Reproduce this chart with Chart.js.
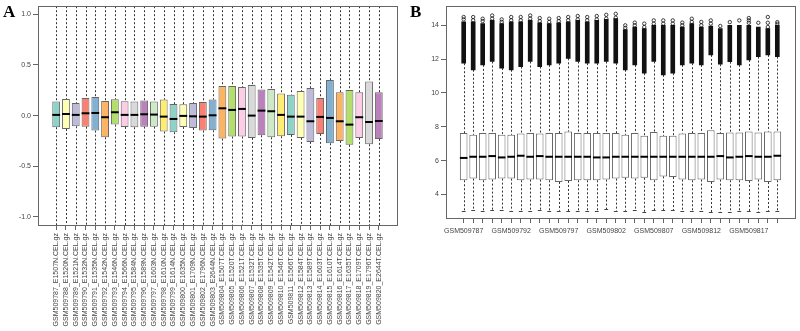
<!DOCTYPE html>
<html>
<head>
<meta charset="utf-8">
<script src="https://cdn.jsdelivr.net/npm/chart.js@4/dist/chart.umd.min.js"></script>
<style>
  html, body { margin: 0; padding: 0; background: #fff; }
  #wrap { position: relative; width: 800px; height: 331px; }
  .panel { position: absolute; top: 0; width: 400px; height: 331px; }
</style>
</head>
<body>
<div id="wrap">
  <div class="panel" style="left:0"><canvas id="chartA"></canvas></div>
  <div class="panel" style="left:400px"><canvas id="chartB"></canvas></div>
</div>
<script>
// sample file names (panel A shows them whole, panel B only the GSM id)
const sampleNames = [
  "GSM509787_E1507N.CEL.gz", "GSM509788_E1520N.CEL.gz", "GSM509789_E1521N.CEL.gz",
  "GSM509790_E1532N.CEL.gz", "GSM509791_E1535N.CEL.gz", "GSM509792_E1542N.CEL.gz",
  "GSM509793_E1546N.CEL.gz", "GSM509794_E1566N.CEL.gz", "GSM509795_E1584N.CEL.gz",
  "GSM509796_E1589N.CEL.gz", "GSM509797_E1603N.CEL.gz", "GSM509798_E1610N.CEL.gz",
  "GSM509799_E1614N.CEL.gz", "GSM509800_E1635N.CEL.gz", "GSM509801_E1709N.CEL.gz",
  "GSM509802_E1796N.CEL.gz", "GSM509803_E2644N.CEL.gz", "GSM509804_E1507T.CEL.gz",
  "GSM509805_E1520T.CEL.gz", "GSM509806_E1521T.CEL.gz", "GSM509807_E1532T.CEL.gz",
  "GSM509808_E1535T.CEL.gz", "GSM509809_E1542T.CEL.gz", "GSM509810_E1546T.CEL.gz",
  "GSM509811_E1566T.CEL.gz", "GSM509812_E1584T.CEL.gz", "GSM509813_E1589T.CEL.gz",
  "GSM509814_E1603T.CEL.gz", "GSM509815_E1610T.CEL.gz", "GSM509816_E1614T.CEL.gz",
  "GSM509817_E1635T.CEL.gz", "GSM509818_E1709T.CEL.gz", "GSM509819_E1796T.CEL.gz",
  "GSM509820_E2644T.CEL.gz"
];

// RColorBrewer Set3, recycled over the boxes
const set3 = ["#8DD3C7", "#FFFFB3", "#BEBADA", "#FB8072", "#80B1D3", "#FDB462",
              "#B3DE69", "#FCCDE5", "#D9D9D9", "#BC80BD", "#CCEBC5", "#FFED6F"];

// Panel A (RLE-like, centred on 0)
const aQ1  = [-0.115, -0.132, -0.105, -0.109, -0.148, -0.214, -0.089, -0.112, -0.115, -0.109, -0.109, -0.158,
              -0.164, -0.112, -0.122, -0.148, -0.145, -0.227, -0.207, -0.207, -0.220, -0.194, -0.214, -0.204,
              -0.191, -0.220, -0.260, -0.181, -0.273, -0.250, -0.289, -0.220, -0.283, -0.230];
const aMed = [0.007, 0.016, 0.007, 0.023, 0.026, -0.016, 0.033, 0.007, 0.007, 0.013, 0.010, -0.010,
              -0.033, -0.003, -0.007, -0.010, 0.003, 0.072, 0.056, 0.066, 0.000, 0.049, 0.043, 0.007,
              -0.010, -0.010, -0.056, -0.013, -0.023, -0.056, -0.089, -0.016, -0.063, -0.053];
const aQ3  = [0.138, 0.164, 0.125, 0.174, 0.184, 0.145, 0.161, 0.141, 0.138, 0.148, 0.138, 0.158,
              0.115, 0.112, 0.125, 0.135, 0.158, 0.293, 0.293, 0.283, 0.303, 0.257, 0.263, 0.217,
              0.207, 0.243, 0.273, 0.174, 0.352, 0.230, 0.253, 0.230, 0.336, 0.230];
// whiskers run past the visible -1..1 window
const aLo  = [-1.3, -1.3, -1.3, -1.3, -1.3, -1.3, -1.3, -1.3, -1.3, -1.3, -1.3, -1.3,
              -1.3, -1.3, -1.3, -1.3, -1.3, -1.3, -1.3, -1.3, -1.3, -1.3, -1.3, -1.3,
              -1.3, -1.3, -1.3, -1.3, -1.3, -1.3, -1.3, -1.3, -1.3, -1.3];
const aHi  = [1.3, 1.3, 1.3, 1.3, 1.3, 1.3, 1.3, 1.3, 1.3, 1.3, 1.3, 1.3,
              1.3, 1.3, 1.3, 1.3, 1.3, 1.3, 1.3, 1.3, 1.3, 1.3, 1.3, 1.3,
              1.3, 1.3, 1.3, 1.3, 1.3, 1.3, 1.3, 1.3, 1.3, 1.3];
const aTicks = [-1, -0.5, 0, 0.5, 1];

// Panel B (log2 intensities)
const bLo  = [3.04, 3.08, 3.04, 3.06, 3.06, 3.04, 3.02, 3.04, 3.06, 3.00, 3.04, 3.02,
              3.04, 3.02, 3.04, 3.12, 3.02, 3.04, 3.06, 2.96, 3.08, 3.06, 3.06, 3.04,
              3.02, 3.04, 2.96, 2.98, 2.98, 3.04, 3.02, 2.94, 3.04, 3.04];
const bQ1  = [4.84, 4.94, 4.84, 4.88, 4.94, 4.94, 4.84, 4.88, 4.88, 4.84, 4.74, 4.80,
              4.84, 4.84, 4.84, 4.88, 4.94, 4.99, 4.94, 4.99, 4.84, 5.07, 5.03, 4.88,
              4.84, 4.88, 4.74, 4.88, 4.84, 4.84, 4.80, 4.88, 4.74, 4.84];
const bMed = [6.16, 6.23, 6.23, 6.27, 6.19, 6.23, 6.29, 6.23, 6.27, 6.23, 6.23, 6.23,
              6.23, 6.23, 6.19, 6.19, 6.23, 6.23, 6.23, 6.23, 6.23, 6.23, 6.23, 6.23,
              6.23, 6.23, 6.23, 6.27, 6.19, 6.23, 6.27, 6.23, 6.23, 6.29];
const bQ3  = [7.63, 7.53, 7.63, 7.63, 7.53, 7.53, 7.61, 7.63, 7.61, 7.63, 7.63, 7.72,
              7.63, 7.63, 7.63, 7.63, 7.63, 7.53, 7.63, 7.47, 7.70, 7.47, 7.47, 7.61,
              7.63, 7.63, 7.80, 7.63, 7.66, 7.66, 7.72, 7.66, 7.72, 7.72];
const bHi  = [11.76, 11.37, 11.66, 11.86, 11.47, 11.37, 11.56, 11.86, 11.56, 11.66, 11.76, 12.05,
              11.86, 11.76, 11.76, 11.86, 11.76, 11.37, 11.66, 11.17, 11.86, 11.07, 11.17, 11.66,
              11.76, 11.66, 12.25, 11.70, 11.85, 11.66, 11.95, 12.15, 12.25, 12.15];
// top of the packed run of outliers, then the sparse ones above it
const bDenseTop = [14.2, 14.2, 14.1, 14.3, 14.1, 14.2, 14.2, 14.3, 14.15, 14.1, 14.15, 14.2,
                   14.3, 14.2, 14.3, 14.35, 14.4, 13.75, 13.9, 13.8, 14.0, 14.0, 14.0, 13.9,
                   14.1, 13.9, 13.95, 13.8, 14.0, 14.0, 14.0, 13.9, 13.8, 14.0];
const bSparse = [
  [14.35, 14.49], [14.3, 14.49], [14.25, 14.39], [14.4, 14.58], [14.2, 14.35], [14.3, 14.49],
  [14.3, 14.49], [14.4, 14.58], [14.25, 14.43], [14.2, 14.39], [14.25, 14.43], [14.3, 14.49],
  [14.35, 14.55], [14.3, 14.49], [14.35, 14.55], [14.4, 14.62], [14.45, 14.68], [13.85, 14.0],
  [14.0, 14.16], [13.9, 14.1], [14.1, 14.29], [14.1, 14.29], [14.1, 14.29], [14.0, 14.16],
  [14.2, 14.39], [14.0, 14.2], [14.1, 14.29], [13.96], [14.19], [14.29],
  [14.15, 14.29, 14.43], [14.15], [13.9, 14.15, 14.49], [14.09, 14.19]
];
const bTicks = [4, 6, 8, 10, 12, 14];

const fontFamily = '"Liberation Sans", Arial, sans-serif';
const textColor = "#444";
const lineColor = "#666";

// whiskers, medians, frame and panel letter
function boxPlugin(spec) {
  return {
    id: "box" + spec.letter,
    beforeDatasetsDraw(chart) {
      const { ctx, chartArea: a, scales: { x, y } } = chart;
      ctx.save();
      ctx.beginPath();
      ctx.rect(a.left, a.top, a.right - a.left, a.bottom - a.top);
      ctx.clip();
      ctx.strokeStyle = "#333";
      ctx.lineWidth = 1;
      ctx.setLineDash([2, 2]);
      spec.q1.forEach((q, i) => {
        const px = Math.round(x.getPixelForValue(i + 1)) + 0.5;
        const top = Math.max(y.getPixelForValue(spec.hi[i]), a.top);
        const bottom = Math.min(y.getPixelForValue(spec.lo[i]), a.bottom);
        ctx.beginPath();
        ctx.moveTo(px, top);
        ctx.lineTo(px, y.getPixelForValue(spec.q3[i]));
        ctx.moveTo(px, y.getPixelForValue(q));
        ctx.lineTo(px, bottom);
        ctx.stroke();
      });
      ctx.setLineDash([]);
      if (spec.caps) {
        const meta = chart.getDatasetMeta(spec.boxIndex);
        ctx.strokeStyle = "#444";
        spec.lo.forEach((v, i) => {
          const px = x.getPixelForValue(i + 1);
          const w = meta.data[i].width / 4;
          const py = Math.round(y.getPixelForValue(v)) + 0.5;
          ctx.beginPath();
          ctx.moveTo(px - w, py);
          ctx.lineTo(px + w, py);
          ctx.stroke();
        });
      }
      ctx.restore();
    },
    afterDatasetsDraw(chart) {
      const { ctx, chartArea: a, scales: { x, y } } = chart;
      const meta = chart.getDatasetMeta(spec.boxIndex);
      ctx.save();
      ctx.strokeStyle = "#000";
      ctx.lineWidth = 2;
      spec.med.forEach((m, i) => {
        const px = x.getPixelForValue(i + 1);
        const w = meta.data[i].width / 2;
        const py = y.getPixelForValue(m);
        ctx.beginPath();
        ctx.moveTo(px - w, py);
        ctx.lineTo(px + w, py);
        ctx.stroke();
      });
      ctx.strokeStyle = lineColor;
      ctx.lineWidth = 1;
      ctx.strokeRect(Math.round(a.left) + 0.5, Math.round(a.top) + 0.5,
                     Math.round(a.right - a.left), Math.round(a.bottom - a.top));
      ctx.fillStyle = "#000";
      ctx.font = 'bold 17px "Liberation Serif", "Times New Roman", serif';
      ctx.textBaseline = "alphabetic";
      ctx.fillText(spec.letter, spec.letterX, 17);
      ctx.restore();
    }
  };
}

function yAxis(min, max, tickList, width, fmt) {
  return {
    min: min, max: max,
    afterBuildTicks: s => { s.ticks = tickList.map(v => ({ value: v })); },
    afterFit: s => { s.width = width; },
    grid: { drawOnChartArea: false, tickLength: 5, color: lineColor },
    border: { display: false },
    ticks: { font: { size: 7, family: fontFamily }, color: textColor, padding: 2, callback: fmt }
  };
}

function xAxis(height, tickOpts) {
  return {
    type: "linear", min: -0.86, max: sampleNames.length + 1.86, offset: false,
    afterBuildTicks: s => { s.ticks = sampleNames.map((n, i) => ({ value: i + 1 })); },
    afterFit: s => { s.height = height; },
    grid: { drawOnChartArea: false, offset: false, tickLength: 5, color: lineColor },
    border: { display: false },
    ticks: Object.assign({ autoSkip: false, font: { size: 7, family: fontFamily }, color: textColor }, tickOpts)
  };
}

const common = {
  responsive: true,
  maintainAspectRatio: false,
  animation: false,
  plugins: { legend: { display: false }, tooltip: { enabled: false } }
};

// Panel A
new Chart(document.getElementById("chartA"), {
  type: "bar",
  data: {
    datasets: [{
      data: aQ1.map((q, i) => ({ x: i + 1, y: [q, aQ3[i]] })),
      backgroundColor: aQ1.map((q, i) => set3[i % set3.length]),
      borderColor: lineColor,
      borderWidth: 1,
      borderSkipped: false,
      barPercentage: 0.8,
      categoryPercentage: 1,
      grouped: false
    }]
  },
  options: Object.assign({}, common, {
    layout: { padding: { left: 0, top: 4, right: 3, bottom: 0 } },
    scales: {
      x: xAxis(106, { minRotation: 90, maxRotation: 90, padding: 3, callback: v => sampleNames[v - 1] }),
      y: yAxis(-1.08, 1.08, aTicks, 38, v => v.toFixed(1))
    }
  }),
  plugins: [boxPlugin({ letter: "A", letterX: 3, boxIndex: 0, q1: aQ1, q3: aQ3, med: aMed, lo: aLo, hi: aHi, caps: false })]
});

// Panel B
const sparsePoints = [];
bSparse.forEach((list, i) => list.forEach(v => sparsePoints.push({ x: i + 1, y: v })));

new Chart(document.getElementById("chartB"), {
  type: "bar",
  data: {
    datasets: [
      {
        type: "scatter",
        data: sparsePoints,
        pointRadius: 1.7,
        pointBorderWidth: 0.8,
        borderColor: "#111",
        backgroundColor: "rgba(255,255,255,0)"
      },
      {
        data: bHi.map((h, i) => ({ x: i + 1, y: [h, bDenseTop[i]] })),
        backgroundColor: "#111",
        borderWidth: 0,
        barThickness: 4,
        grouped: false
      },
      {
        data: bQ1.map((q, i) => ({ x: i + 1, y: [q, bQ3[i]] })),
        backgroundColor: "#fff",
        borderColor: lineColor,
        borderWidth: 1,
        borderSkipped: false,
        barPercentage: 0.8,
        categoryPercentage: 1,
        grouped: false
      }
    ]
  },
  options: Object.assign({}, common, {
    layout: { padding: { left: 0, top: 4, right: 5, bottom: 0 } },
    scales: {
      x: xAxis(113, {
        minRotation: 0, maxRotation: 0, padding: 4,
        callback: v => ((v - 1) % 5 === 0 ? sampleNames[v - 1].split("_")[0] : "")
      }),
      y: yAxis(2.61, 15.13, bTicks, 46, v => v)
    }
  }),
  plugins: [boxPlugin({ letter: "B", letterX: 10, boxIndex: 2, q1: bQ1, q3: bQ3, med: bMed, lo: bLo, hi: bHi, caps: true })]
});
</script>
</body>
</html>
